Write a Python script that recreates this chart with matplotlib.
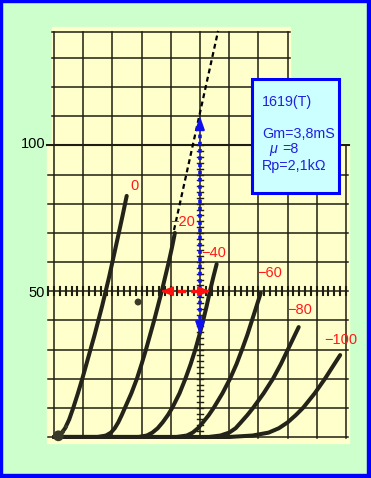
import numpy as np
import matplotlib
matplotlib.use("Agg")
import matplotlib.pyplot as plt
from matplotlib.patches import Rectangle

plt.rcParams['font.family'] = ['Liberation Sans', 'DejaVu Sans']

# plate characteristics of the 1619 (triode connection), Vp [V] vs Ip [mA]
grid_volts = ['0', '−20', '−40', '−60', '−80', '−100']
curve_vp = [
    [0, 5, 15, 27, 38, 52, 66, 82, 97, 111, 125, 139, 152, 165, 177, 189, 200, 211, 222, 235, 249],
    [0, 150, 178, 195, 208, 220, 232, 243, 265, 284, 300, 315, 329, 343, 356, 369, 381, 393, 404, 414],
    [0, 290, 318, 337, 355, 372, 390, 405, 430, 450, 468, 484, 498, 511, 523, 534, 546, 557],
    [0, 420, 455, 475, 493, 510, 530, 547, 577, 603, 625, 644, 662, 678, 694, 708],
    [0, 530, 570, 600, 622, 640, 662, 682, 718, 750, 777, 801, 825, 838],
    [0, 600, 680, 735, 770, 800, 828, 853, 893, 928, 960, 980],
]
curve_ip = [
    [0, 0, 0.5, 1.5, 3, 6, 10, 15, 20, 25, 30, 35, 40, 45, 50, 55, 60, 65, 70, 76, 82.7],
    [0, 0, 0.5, 1.5, 3, 5, 7.5, 10, 15, 20, 25, 30, 35, 40, 45, 50, 55, 60, 65, 70],
    [0, 0, 0.5, 1.5, 3, 5, 7.5, 10, 15, 20, 25, 30, 35, 40, 45, 50, 55, 59.3],
    [0, 0, 0.5, 1.5, 3, 5, 7.5, 10, 15, 20, 25, 30, 35, 40, 45, 49.4],
    [0, 0, 0.5, 1.5, 3, 5, 7.5, 10, 15, 20, 25, 30, 35, 37.7],
    [0, 0, 0.5, 1.5, 3, 5, 7.5, 10, 15, 20, 25, 28.1],
]
label_xy = [(274, 86.1), (442, 73.8), (548, 63.1), (740, 56.3), (842, 43.6), (983, 33.3)]

# dotted extension of the -20 V curve
ext_vp = [411, 562]
ext_ip = [71, 139.3]

# Gm arrow (vertical) and Rp arrow (horizontal)
gm_vp = 500
gm_ip = [34, 111]
rp_vp = [356, 545]
rp_ip = 50

y_ticks = [50, 100]

fig = plt.figure(figsize=(3.71, 4.78), dpi=100)
fig.patch.set_facecolor('#CCFFCC')
ax = fig.add_axes([0, 0, 1, 1])
ax.set_xlim(-184.9, 1085.6)
ax.set_ylim(-14.07, 149.9)
ax.axis('off')

paper = '#FFFFCC'
ink = '#1e1e12'

# scope screen photo (upper + lower part)
ax.add_patch(Rectangle((-7, 100), 815, 40.5, color=paper, zorder=1))
ax.add_patch(Rectangle((-24, -2.1), 1034, 103, color=paper, zorder=1))

# graticule
for v in range(0, 801, 100):
    ax.plot([v, v], [100, 139], color=ink, lw=1.1, zorder=2)
for i in range(110, 140, 10):
    ax.plot([-7, 808], [i, i], color=ink, lw=1.1, zorder=2)
ax.plot([-7, 808], [139, 139], color=ink, lw=1.1, zorder=2)
for v in range(0, 1001, 100):
    ax.plot([v, v], [-0.5, 100], color=ink, lw=1.1, zorder=2)
for i in range(0, 101, 10):
    ax.plot([-20, 1008], [i, i], color=ink, lw=1.1, zorder=2)
ax.plot([-24, 1010], [100, 100], color=ink, lw=1.5, zorder=2)

# centre-line ticks
for v in range(-20, 1001, 20):
    ax.plot([v, v], [48.6, 51.4], color=ink, lw=1.5, zorder=2)
for i in range(0, 101, 2):
    ax.plot([490, 510], [i, i], color=ink, lw=1.0, zorder=2)

# curves
for vp, ip in zip(curve_vp, curve_ip):
    ax.plot(vp, ip, color='#23231a', lw=2.9, solid_capstyle='round',
            solid_joinstyle='round', zorder=3)

# smudges on the photo
ax.scatter([15, 30, 42, 288], [0.4, 1.8, 3.5, 46.3], s=[60, 10, 6, 25],
           color='#3a3a28', zorder=3, lw=0)

ax.plot(ext_vp, ext_ip, color='black', lw=1.6, ls=(0, (2.2, 1.6)), zorder=4)

# Gm arrow
ax.plot([gm_vp, gm_vp], [gm_ip[0] + 4, gm_ip[1] - 4], color='#1010EE', lw=2.6,
        ls=(0, (1, 1)), zorder=5)
for start, end in [(gm_ip[0] + 5, gm_ip[0]), (gm_ip[1] - 5, gm_ip[1])]:
    ax.annotate('', xy=(gm_vp, end), xytext=(gm_vp, start),
                arrowprops=dict(arrowstyle='-|>,head_length=0.8,head_width=0.28',
                                color='#1010EE', lw=1.4), zorder=5)

# Rp arrow
ax.plot([rp_vp[0] + 20, rp_vp[1] - 20], [rp_ip, rp_ip], color='#FF1010', lw=2.4,
        ls=(0, (2.5, 1.5)), zorder=5)
for start, end in [(rp_vp[0] + 35, rp_vp[0]), (rp_vp[1] - 35, rp_vp[1])]:
    ax.annotate('', xy=(end, rp_ip), xytext=(start, rp_ip),
                arrowprops=dict(arrowstyle='-|>,head_length=0.7,head_width=0.28',
                                color='#FF1010', lw=1.4), zorder=5)

# grid voltage labels
for lab, (x, y) in zip(grid_volts, label_xy):
    ax.text(x, y, lab, color='#FF1A1A', fontsize=10.5, ha='center', va='center', zorder=6)

for t in y_ticks:
    ax.text(-30, t + 0.6 if t == 100 else t - 0.7, str(t), fontsize=10.5,
            ha='right', va='center', color='black')

# info box
ax.add_patch(Rectangle((678, 83.7), 298, 39.1, facecolor='#CCFFFF',
                       edgecolor='#0000FF', lw=2.2, zorder=6))
blue = '#2020E0'
ax.text(712, 113.5, '1619(T)', color=blue, fontsize=10.3, va='baseline', zorder=7)
ax.text(712, 102.6, 'Gm=3,8mS', color=blue, fontsize=10.3, va='baseline', zorder=7)
ax.text(736, 97.4, 'μ', color=blue, fontsize=10.3, style='italic', va='baseline', zorder=7)
ax.text(781, 97.4, '=8', color=blue, fontsize=10.3, va='baseline', zorder=7)
ax.text(712, 91.6, 'Rp=2,1kΩ', color=blue, fontsize=10.3, va='baseline', zorder=7)

# blue frame
W, H = 371, 478
for r in [(0, 0, 2 / W, 1), (0, 1 - 2 / H, 1, 2 / H), (1 - 4 / W, 0, 4 / W, 1), (0, 0, 1, 4 / H)]:
    ax.add_patch(Rectangle(r[:2], r[2], r[3], transform=ax.transAxes,
                           color='#0000FF', zorder=10, clip_on=False))

fig.savefig('out.png', dpi=100, facecolor=fig.get_facecolor())
